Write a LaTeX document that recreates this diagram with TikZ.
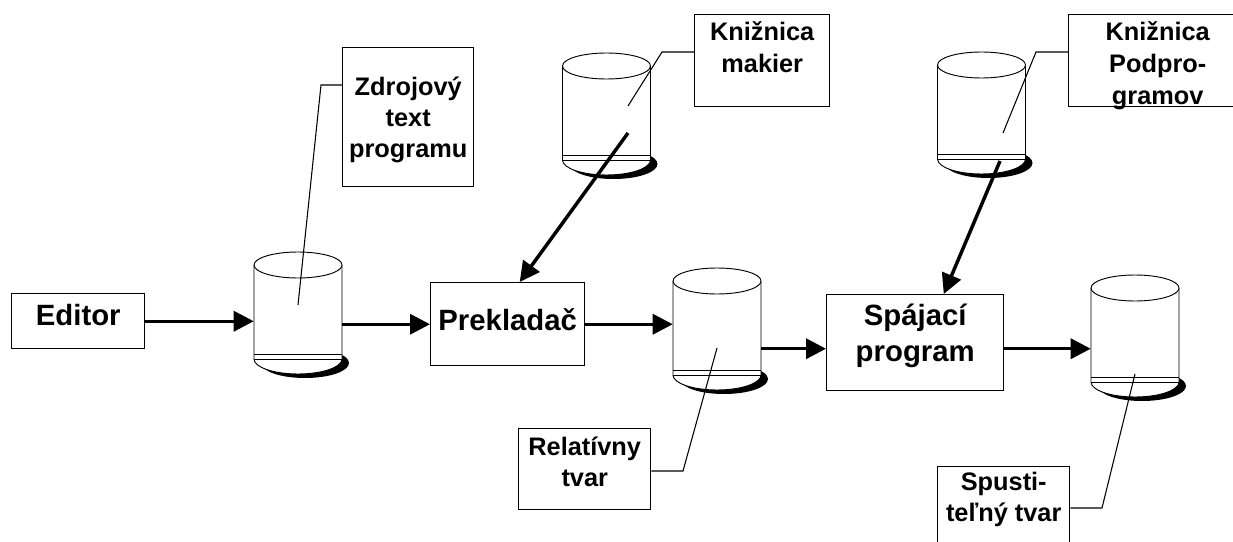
\documentclass[tikz,border=0pt]{standalone}
\usepackage{fontspec}
\setmainfont{Liberation Sans}
\usetikzlibrary{arrows.meta,calc}
% drum: name, centre x, y of top ellipse centre (pixel units)
\newcommand\drum[3]{%
  \fill[black] (#2+7,#3+98) ellipse [x radius=44, y radius=15];
  \fill[white] (#2-44,#3) -- (#2-44,#3+94) arc[start angle=180, end angle=0, x radius=44, y radius=15] -- (#2+44,#3) -- cycle;
  \draw[drumline] (#2-44,#3) -- (#2-44,#3+94) arc[start angle=180, end angle=0, x radius=44, y radius=15] -- (#2+44,#3);
  \draw[drumline, fill=white] (#2,#3) ellipse [x radius=44, y radius=13];
  \draw[drumline] (#2-44,#3+89) -- (#2+44,#3+89);
  \draw[drumline] (#2-44,#3+94) -- (#2+44,#3+94);
  \node[inner sep=0pt, minimum width=66pt, minimum height=70.5pt] (#1) at (#2,#3+47) {};%
}
\newcommand\lns[1]{\begin{tabular}[t]{@{}c@{}}#1\end{tabular}}
\begin{document}
\begin{tikzpicture}[x=0.75pt,y=-0.75pt,
  box/.style={draw, line width=1.1pt, fill=white, inner sep=0pt, anchor=north west},
  big/.style={font=\fontsize{22}{27}\selectfont\bfseries},
  small/.style={font=\fontsize{19}{23}\selectfont\bfseries},
  smallwide/.style={font=\fontsize{19}{24}\selectfont\bfseries},
  flow/.style={line width=2.6pt, -{Triangle[length=15pt,width=15pt]}},
  lead/.style={line width=0.8pt},
  drumline/.style={line width=0.7pt}]
\useasboundingbox (0,0) rectangle (1233,542);
\clip (0,0) rectangle (1233,542);
\fill[white] (0,0) rectangle (1233,542);

% drums
\drum{c1}{298}{265}
\drum{c2}{717}{281}
\drum{c3}{1135}{288}
\drum{c4}{606.5}{66}
\drum{c5}{981.5}{65}

% boxes
\node[box, big, minimum width=99.75pt, text height=24pt, text depth=17.25pt] (ed) at (11,293) {Editor};
\node[box, big, minimum width=115.5pt, text height=36pt, text depth=26.25pt] (pr) at (430,282) {Prekladač};
\node[box, big, minimum width=132.75pt, text height=23.25pt, text depth=48.75pt] (sp) at (826,294) {\lns{Spájací\\program}};
\node[box, small, minimum width=98.25pt, text height=36pt, text depth=68.25pt] (zd) at (342,47) {\lns{Zdrojový\\text\\programu}};
\node[box, smallwide, minimum width=101.25pt, text height=19.5pt, text depth=49.5pt] (mk) at (694,14) {\lns{Knižnica\\makier}};
\node[box, smallwide, minimum width=133.5pt, text height=19.5pt, text depth=49.5pt] (pp) at (1068,14) {\lns{Knižnica\\Podpro-\\gramov}};
\node[box, small, minimum width=99pt, text height=20.25pt, text depth=40.5pt] (rel) at (518,428) {\lns{Relatívny\\tvar}};
\node[box, small, minimum width=99pt, text height=18pt, text depth=51pt] (spu) at (937,466) {\lns{Spusti-\\teľný tvar}};

% leader lines
\coordinate (l1) at (298,305); \coordinate (k1) at (321,85);
\draw[lead] (l1) -- (k1) -- (k1 -| zd.west);
\coordinate (l4) at (628,106); \coordinate (k4) at (662,52);
\draw[lead] (l4) -- (k4) -- (k4 -| mk.west);
\coordinate (l5) at (1003,133); \coordinate (k5) at (1036,52);
\draw[lead] (l5) -- (k5) -- (k5 -| pp.west);
\coordinate (l2) at (717,348); \coordinate (k2) at (683,471);
\draw[lead] (l2) -- (k2) -- (k2 -| rel.east);
\coordinate (l3) at (1135,374); \coordinate (k3) at (1102,508);
\draw[lead] (l3) -- (k3) -- (k3 -| spu.east);

% flow arrows
\draw[flow] (ed.east) -- (ed.east -| c1.west);
\draw[flow] (pr.west -| c1.east) -- (pr.west);
\draw[flow] (pr.east) -- (pr.east -| c2.west);
\coordinate (a4) at ([yshift=-4.5pt]sp.west);
\draw[flow] (a4 -| c2.east) -- (a4);
\coordinate (a5) at ([yshift=-4.5pt]sp.east);
\draw[flow] (a5) -- (a5 -| c3.west);
\coordinate (m4) at (628,133);
\draw[flow] (m4) -- ([xshift=9pt]pr.north);
\coordinate (m5) at (1000,161);
\draw[flow] (m5) -- ([xshift=21.4pt]sp.north);
\end{tikzpicture}
\end{document}
